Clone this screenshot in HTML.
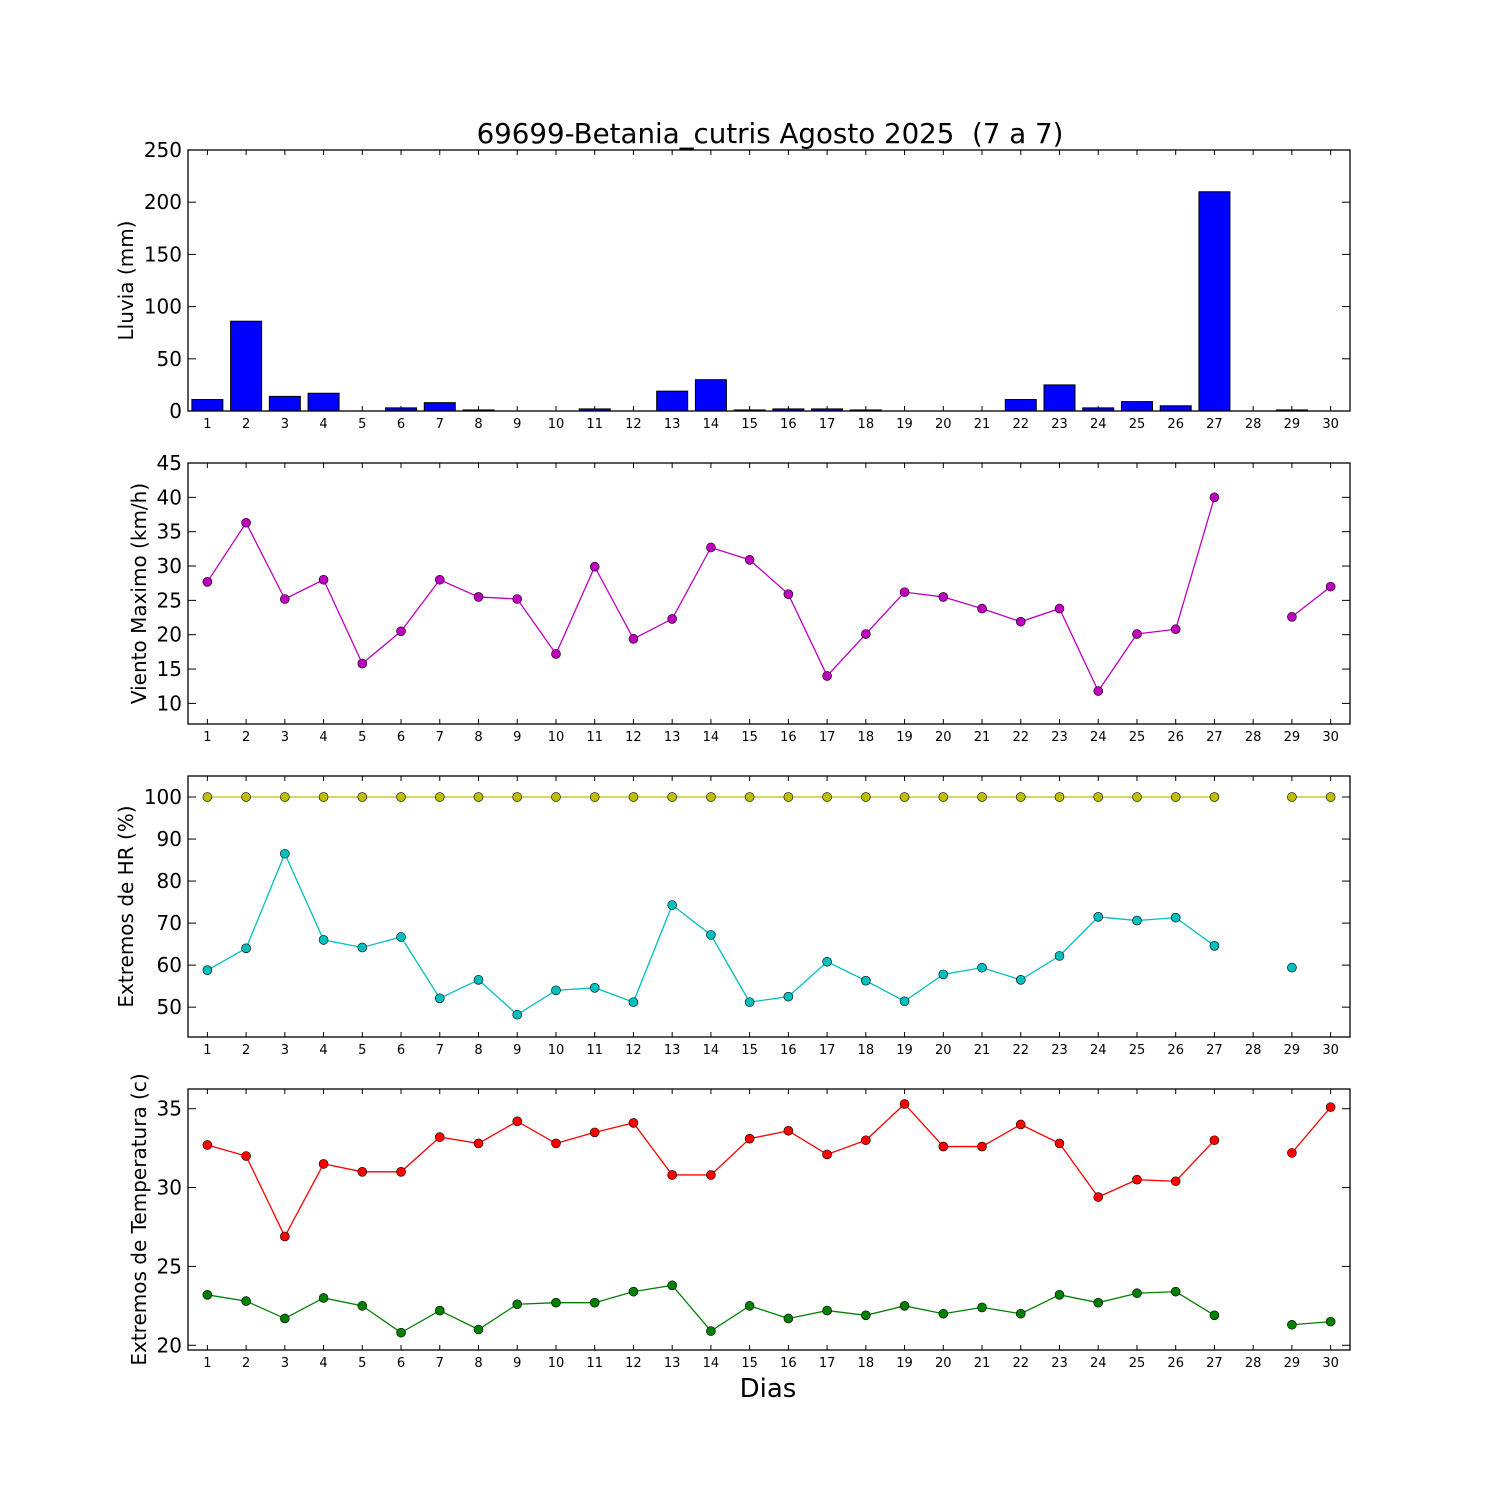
<!DOCTYPE html>
<html><head><meta charset="utf-8"><style>body{margin:0;background:#fff}svg{display:block}text{font-family:"DejaVu Sans","Liberation Sans",sans-serif}</style></head>
<body><svg id="s" width="1500" height="1500" xmlns="http://www.w3.org/2000/svg"></svg>
<script>
const s=document.getElementById('s');let h='<rect width="1500" height="1500" fill="#fff"/>';
const X0=188,X1=1350,dx=(X1-X0)/30;const xp=d=>X0+(d-0.5)*dx;
h+='<text x="770" y="143" font-size="27.7" text-anchor="middle" style="white-space:pre">69699-Betania_cutris Agosto 2025&#160; (7 a 7)</text>';
function panel(top,ymin,ymax,ticks,label,lx){
 const bot=top+261;const yp=v=>bot-(v-ymin)/(ymax-ymin)*261;
 let g='';
 for(let d=1;d<=30;d++){const x=xp(d);g+=`<line x1="${x}" y1="${top}" x2="${x}" y2="${top+5}" stroke="#000"/><line x1="${x}" y1="${bot}" x2="${x}" y2="${bot-5}" stroke="#000"/><text x="${x}" y="${bot+17}" font-size="13" text-anchor="middle">${d}</text>`;}
 ticks.forEach(t=>{const y=yp(t);g+=`<line x1="${X0}" y1="${y}" x2="${X0+8}" y2="${y}" stroke="#000"/><line x1="${X1}" y1="${y}" x2="${X1-8}" y2="${y}" stroke="#000"/><text x="${X0-6}" y="${y+7}" font-size="20" text-anchor="end">${t}</text>`;});
 g+=`<text transform="translate(${lx},${top+130.5}) rotate(-90)" font-size="20" text-anchor="middle">${label}</text>`;
 return {g,yp,frame:`<rect x="${X0}" y="${top}" width="${X1-X0}" height="261" fill="none" stroke="#000" stroke-width="1.3"/>`};
}
function series(p,vals,col){let g='',seg=[];const segs=[];vals.forEach((v,i)=>{if(v===null){if(seg.length)segs.push(seg);seg=[];}else seg.push([xp(i+1),p.yp(v)]);});if(seg.length)segs.push(seg);
 segs.forEach(sg=>{if(sg.length>1)g+=`<polyline points="${sg.map(q=>q.join(',')).join(' ')}" fill="none" stroke="${col}" stroke-width="1.3"/>`;});
 segs.flat().forEach(q=>g+=`<circle cx="${q[0]}" cy="${q[1]}" r="4.5" fill="${col}" stroke="#000" stroke-width="0.6"/>`);return g;}
let p=panel(150,0,250,[0,50,100,150,200,250],'Lluvia (mm)',133);h+=p.g;
[11,86,14,17,0,3,8,1,0,0,2,0,19,30,1,2,2,1,0,0,0,11,25,3,9,5,210,0,1,0].forEach((v,i)=>{const y=p.yp(v);h+=`<rect x="${xp(i+1)-0.4*dx}" y="${y}" width="${0.8*dx}" height="${411-y}" fill="#0000ff" stroke="#000" stroke-width="1"/>`;});h+=p.frame;
p=panel(463,7,45,[10,15,20,25,30,35,40,45],'Viento Maximo (km/h)',146);h+=p.g;
h+=series(p,[27.7,36.3,25.2,28,15.8,20.5,28,25.5,25.2,17.2,29.9,19.4,22.3,32.7,30.9,25.9,14,20.1,26.2,25.5,23.8,21.9,23.8,11.8,20.1,20.8,40,null,22.6,27],'#bf00bf')+p.frame;
p=panel(776,42.9,105,[50,60,70,80,90,100],'Extremos de HR (%)',133);h+=p.g;
h+=series(p,[100,100,100,100,100,100,100,100,100,100,100,100,100,100,100,100,100,100,100,100,100,100,100,100,100,100,100,null,100,100],'#bfbf00');
h+=series(p,[58.8,64,86.5,66,64.2,66.7,52.1,56.5,48.2,54,54.6,51.2,74.3,67.2,51.2,52.5,60.8,56.3,51.4,57.8,59.4,56.5,62.2,71.5,70.6,71.3,64.6,null,59.4,null],'#00bfbf')+p.frame;
p=panel(1089,19.7,36.25,[20,25,30,35],'Extremos de Temperatura (c)',146);h+=p.g;
h+=series(p,[32.7,32,26.9,31.5,31,31,33.2,32.8,34.2,32.8,33.5,34.1,30.8,30.8,33.1,33.6,32.1,33,35.3,32.6,32.6,34,32.8,29.4,30.5,30.4,33,null,32.2,35.1],'#ff0000');
h+=series(p,[23.2,22.8,21.7,23,22.5,20.8,22.2,21,22.6,22.7,22.7,23.4,23.8,20.9,22.5,21.7,22.2,21.9,22.5,22,22.4,22,23.2,22.7,23.3,23.4,21.9,null,21.3,21.5],'#008000')+p.frame;
h+='<text x="768" y="1397" font-size="26" text-anchor="middle">Dias</text>';
s.innerHTML=h;
</script></body></html>
